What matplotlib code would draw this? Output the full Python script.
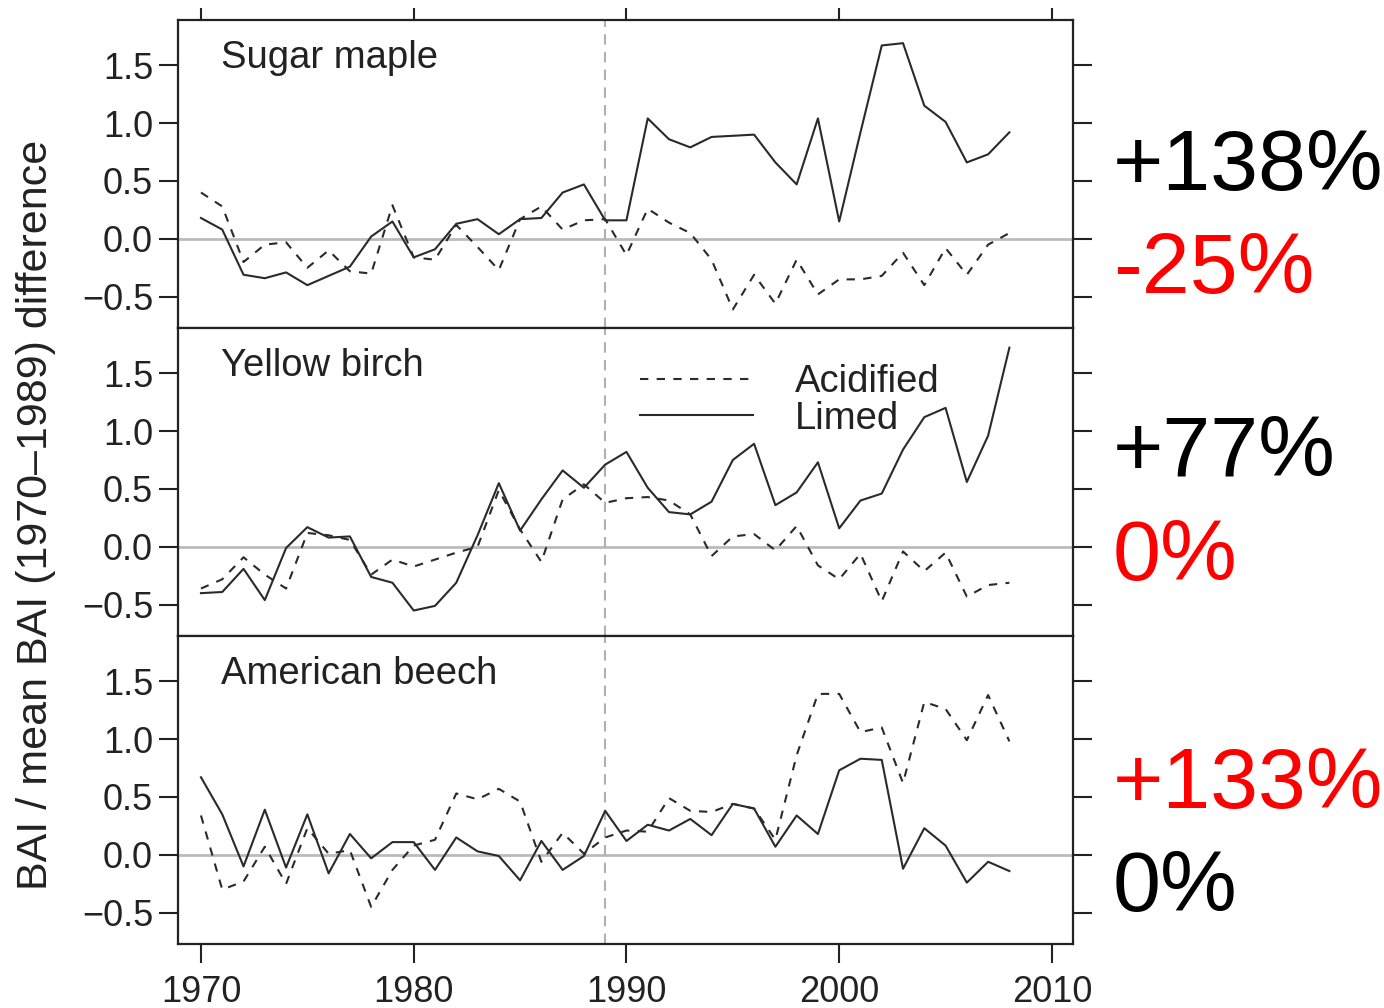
import matplotlib
matplotlib.use('Agg')
import matplotlib.pyplot as plt

years = list(range(1970, 2009))

maple_limed = [0.18, 0.08, -0.31, -0.34, -0.29, -0.40, -0.32, -0.24, 0.02, 0.15,
               -0.16, -0.09, 0.13, 0.17, 0.04, 0.17, 0.18, 0.40, 0.47, 0.16,
               0.16, 1.04, 0.86, 0.79, 0.88, 0.89, 0.90, 0.66, 0.47, 1.04,
               0.15, 0.92, 1.67, 1.69, 1.15, 1.01, 0.66, 0.73, 0.92]
maple_acid = [0.40, 0.28, -0.20, -0.05, -0.03, -0.25, -0.10, -0.28, -0.30, 0.29,
              -0.16, -0.18, 0.12, -0.07, -0.27, 0.17, 0.28, 0.08, 0.16, 0.17,
              -0.14, 0.26, 0.14, 0.05, -0.18, -0.61, -0.31, -0.56, -0.18, -0.48,
              -0.35, -0.35, -0.32, -0.12, -0.40, -0.08, -0.31, -0.05, 0.05]
birch_limed = [-0.40, -0.39, -0.19, -0.46, -0.01, 0.17, 0.08, 0.09, -0.26, -0.31,
               -0.55, -0.51, -0.31, 0.10, 0.55, 0.14, 0.41, 0.66, 0.51, 0.71,
               0.82, 0.51, 0.30, 0.28, 0.39, 0.75, 0.89, 0.36, 0.47, 0.73,
               0.16, 0.40, 0.46, 0.84, 1.12, 1.20, 0.56, 0.96, 1.72]
birch_acid = [-0.36, -0.28, -0.09, -0.24, -0.36, 0.12, 0.10, 0.06, -0.24, -0.11,
              -0.17, -0.11, -0.05, 0.00, 0.49, 0.15, -0.13, 0.41, 0.54, 0.38,
              0.42, 0.43, 0.40, 0.28, -0.08, 0.09, 0.11, -0.03, 0.18, -0.16,
              -0.28, -0.06, -0.47, -0.04, -0.21, -0.05, -0.43, -0.33, -0.31]
beech_limed = [0.67, 0.35, -0.10, 0.39, -0.11, 0.35, -0.16, 0.18, -0.03, 0.11,
               0.11, -0.13, 0.15, 0.03, -0.01, -0.22, 0.12, -0.13, -0.01, 0.38,
               0.12, 0.26, 0.21, 0.31, 0.17, 0.44, 0.40, 0.07, 0.34, 0.18,
               0.73, 0.83, 0.82, -0.12, 0.23, 0.08, -0.24, -0.06, -0.14]
beech_acid = [0.34, -0.30, -0.23, 0.07, -0.25, 0.23, 0.01, 0.04, -0.45, -0.13,
              0.08, 0.13, 0.53, 0.48, 0.57, 0.46, -0.06, 0.19, 0.01, 0.15,
              0.21, 0.20, 0.49, 0.38, 0.37, 0.44, 0.40, 0.13, 0.86, 1.39,
              1.39, 1.06, 1.10, 0.62, 1.32, 1.26, 0.99, 1.38, 0.98]

species = ["Sugar maple", "Yellow birch", "American beech"]
limed = [maple_limed, birch_limed, beech_limed]
acid = [maple_acid, birch_acid, beech_acid]
yticks = [-0.5, 0.0, 0.5, 1.0, 1.5]
ytick_labels = ["\u22120.5", "0.0", "0.5", "1.0", "1.5"]
xticks = [1970, 1980, 1990, 2000, 2010]
ref_year = 1989
right_labels = [("+138%", "black"), ("-25%", "red"),
                ("+77%", "black"), ("0%", "red"),
                ("+133%", "red"), ("0%", "black")]
right_baselines = [190, 293, 476, 580, 808, 911]
ylabel = "BAI / mean BAI (1970\u20131989) difference"

plt.rcParams['font.family'] = ['Liberation Sans', 'DejaVu Sans']

W, H = 1384, 1008
fig = plt.figure(figsize=(W / 100, H / 100), dpi=100)
left_px, right_px = 178, 1073
top_px, bottom_px = 20, 944
ph = (bottom_px - top_px) / 3
dark = '#222222'

for i in range(3):
    t = top_px + i * ph
    ax = fig.add_axes([left_px / W, 1 - (t + ph) / H, (right_px - left_px) / W, ph / H])
    ax.set_xlim(1968.92, 2010.99)
    ax.set_ylim(-0.77, 1.89)
    ax.axhline(0, color='#bbbbbb', lw=2.0, zorder=1)
    ax.axvline(ref_year, color='#b0b0b0', lw=1.5, dashes=(5, 3.5), zorder=1)
    ax.plot(years, acid[i], color='#2a2a2a', lw=1.5, dashes=(4, 4), zorder=3,
            label='Acidified')
    ax.plot(years, limed[i], color='#2a2a2a', lw=1.5, zorder=3, label='Limed')
    for s in ax.spines.values():
        s.set_linewidth(1.6)
        s.set_color(dark)
    ax.set_yticks(yticks)
    ax.set_yticklabels(ytick_labels)
    ax.tick_params(axis='y', which='both', direction='out', length=14, width=1.5,
                   labelsize=26, colors=dark, left=True, right=True, pad=4)
    ax.set_xticks(xticks)
    ax.tick_params(axis='x', direction='out', length=14, width=1.5,
                   labelsize=26, colors=dark, pad=8,
                   top=(i == 0), bottom=(i == 2), labelbottom=(i == 2))
    if i == 0:
        ax.tick_params(axis='x', which='both', top=True, length=9)
    fig.text(221 / W, 1 - (t + 48) / H, species[i], fontsize=27.5, color=dark,
             va='baseline', ha='left')
    if i == 1:
        ax.legend(loc='upper left',
                  bbox_to_anchor=((640 - left_px) / (right_px - left_px), 1 - 36 / ph),
                  frameon=False, fontsize=27.5, handlelength=2.95, handletextpad=1.1,
                  labelspacing=0.02, borderaxespad=0, borderpad=0, labelcolor=dark)

for (txt, col), b in zip(right_labels, right_baselines):
    fig.text(1113 / W, 1 - b / H, txt, fontsize=62, color=col, va='baseline', ha='left')

fig.text(36 / W, 1 - 515 / H, ylabel, fontsize=31, color=dark, rotation=90,
         va='center', ha='center')

fig.savefig('out.png', dpi=100)
